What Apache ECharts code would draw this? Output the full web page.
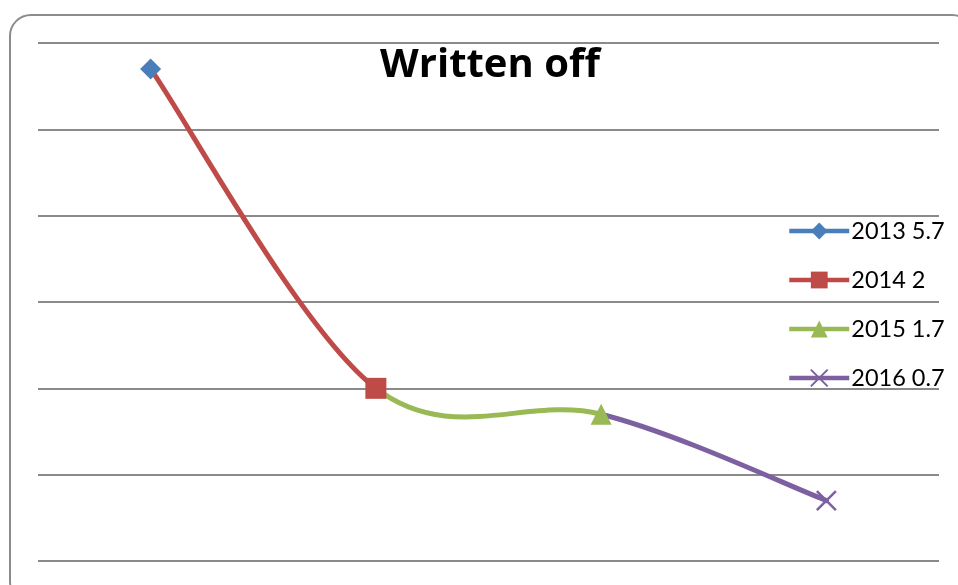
<!DOCTYPE html>
<html>
<head>
<meta charset="utf-8">
<script src="https://cdn.jsdelivr.net/npm/echarts@6/dist/echarts.min.js"></script>
<style>
  html, body { margin: 0; padding: 0; background: #fff; overflow: hidden; }
  #frame {
    position: absolute; left: 9px; top: 14px; width: 965px; height: 590px; z-index: 10;
    border: 2px solid #8c8c8c; border-radius: 22px; box-sizing: border-box; pointer-events: none;
  }
  #main { position: absolute; left: 0; top: 0; width: 958px; height: 585px; }
</style>
</head>
<body>
<div id="main"></div>
<div id="frame"></div>
<script>
// data
var years = ['2013', '2014', '2015', '2016'];
var values = [5.7, 2, 1.7, 0.7];
var seriesNames = ['2013 5.7', '2014 2', '2015 1.7', '2016 0.7'];
var colors = ['#4A7EBB', '#BE4B48', '#98B954', '#7D60A0'];
var symbols = ['diamond', 'rect', 'triangle', 'path://M0,0 L10,10 M10,0 L0,10'];
var yTicks = [0, 1, 2, 3, 4, 5, 6];

var chart = echarts.init(document.getElementById('main'));

// each year is its own series: only its own point gets a marker
var markSeries = seriesNames.map(function (name, i) {
    var d = years.map(function (y, k) { return k === i ? values[k] : '-'; });
    var isX = i === 3;
    return {
        name: name,
        type: 'line',
        data: d,
        z: 5,
        symbol: symbols[i],
        symbolSize: isX ? 19 : 21,
        showSymbol: true,
        lineStyle: { color: colors[i], width: 4.5 },
        itemStyle: isX
            ? { color: colors[i], borderColor: colors[i], borderWidth: 2.5 }
            : { color: colors[i], borderWidth: 0 },
        emphasis: { disabled: true },
        animation: false
    };
});

// smoothed segments (excel style catmull-rom), each coloured by the year it runs into
function pt(api, k) {
    k = Math.max(0, Math.min(values.length - 1, k));
    return api.coord([k, values[k]]);
}
var curveSeries = {
    type: 'custom',
    z: 1,
    silent: true,
    animation: false,
    data: values.map(function (v, i) { return [i, v]; }),
    encode: { x: 0, y: 1 },
    renderItem: function (params, api) {
        var i = params.dataIndex;
        if (i === 0) return null;
        var p0 = pt(api, i - 2), p1 = pt(api, i - 1), p2 = pt(api, i), p3 = pt(api, i + 1);
        return {
            type: 'bezierCurve',
            shape: {
                x1: p1[0], y1: p1[1],
                x2: p2[0], y2: p2[1],
                cpx1: p1[0] + (p2[0] - p0[0]) / 6,
                cpy1: p1[1] + (p2[1] - p0[1]) / 6,
                cpx2: p2[0] - (p3[0] - p1[0]) / 6,
                cpy2: p2[1] - (p3[1] - p1[1]) / 6
            },
            style: { stroke: colors[i], lineWidth: 5, fill: null, lineCap: 'round' }
        };
    }
};

var option = {
    backgroundColor: '#fff',
    textStyle: { fontFamily: 'Lato' },
    title: {
        text: 'Written off',
        left: 485,
        textAlign: 'center',
        top: 41,
        textStyle: { fontFamily: 'Open Sans', fontWeight: 'bold', fontSize: 40, color: '#000' }
    },
    legend: {
        data: seriesNames,
        orient: 'vertical',
        left: 782,
        top: 214,
        itemWidth: 60,
        itemHeight: 21,
        itemGap: 25,
        selectedMode: false,
        lineStyle: { width: 4.5 },
        textStyle: { fontFamily: 'Lato', fontSize: 23.5, color: '#000', padding: [0, 0, 0, -3] }
    },
    grid: { left: 38, right: 19, top: 43, bottom: 24, containLabel: false },
    xAxis: {
        type: 'category',
        data: years,
        boundaryGap: true,
        axisLine: { show: false },
        axisTick: { show: false },
        axisLabel: { show: false }
    },
    yAxis: {
        type: 'value',
        min: yTicks[0],
        max: yTicks[yTicks.length - 1],
        interval: 1,
        axisLine: { show: false },
        axisTick: { show: false },
        axisLabel: { show: false },
        splitLine: { lineStyle: { color: '#8a8a8a', width: 2 } }
    },
    series: [curveSeries].concat(markSeries)
};
chart.setOption(option);
</script>
</body>
</html>
